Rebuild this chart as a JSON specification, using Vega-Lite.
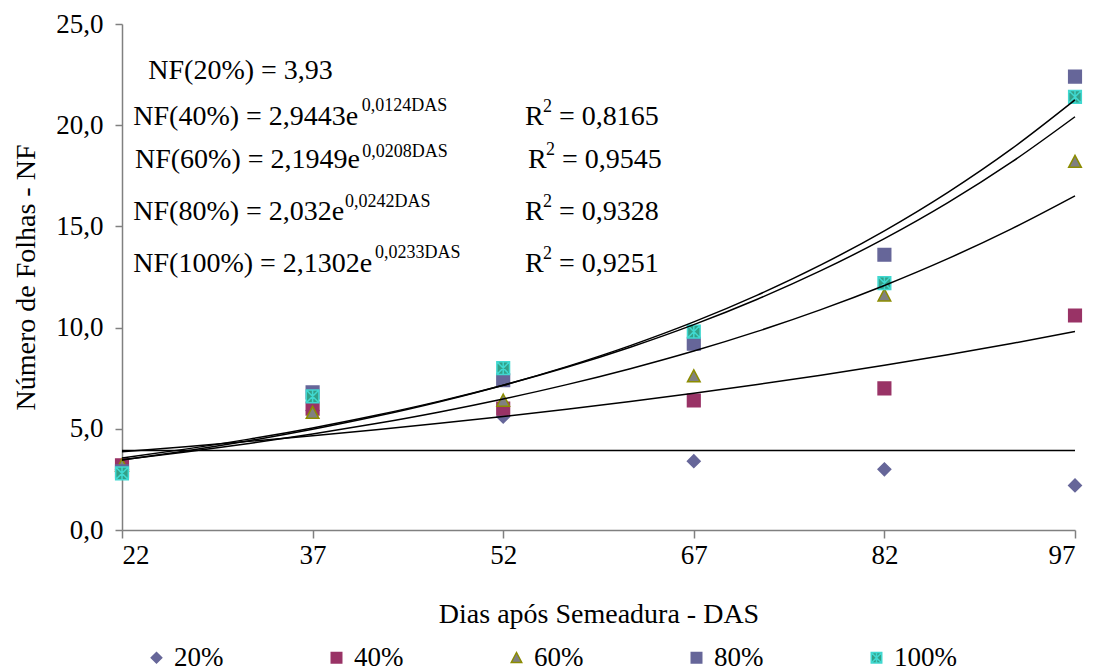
{
  "$schema": "https://vega.github.io/schema/vega-lite/v6.json",
  "width": 953,
  "height": 506,
  "autosize": {"type": "none"},
  "padding": {"left": 122, "top": 24, "right": 18, "bottom": 141},
  "background": "white",
  "config": {
    "view": {"stroke": null},
    "font": "Liberation Serif",
    "legend": {
      "direction": "horizontal",
      "columns": 5,
      "gridAlign": "all",
      "columnPadding": 86,
      "labelFont": "Liberation Serif",
      "labelFontSize": 27,
      "labelColor": "black",
      "labelOffset": 4,
      "symbolSize": 110,
      "symbolStrokeWidth": 1.5
    }
  },
  "datasets": {
    "pontos": [
      {"das": 22, "nf": 3.0, "serie": "20%"},
      {"das": 37, "nf": 5.9, "serie": "20%"},
      {"das": 52, "nf": 5.6, "serie": "20%"},
      {"das": 67, "nf": 3.4, "serie": "20%"},
      {"das": 82, "nf": 3.0, "serie": "20%"},
      {"das": 97, "nf": 2.2, "serie": "20%"},
      {"das": 22, "nf": 3.2, "serie": "40%"},
      {"das": 37, "nf": 6.0, "serie": "40%"},
      {"das": 52, "nf": 6.0, "serie": "40%"},
      {"das": 67, "nf": 6.4, "serie": "40%"},
      {"das": 82, "nf": 7.0, "serie": "40%"},
      {"das": 97, "nf": 10.6, "serie": "40%"},
      {"das": 22, "nf": 3.2, "serie": "60%"},
      {"das": 37, "nf": 5.8, "serie": "60%"},
      {"das": 52, "nf": 6.4, "serie": "60%"},
      {"das": 67, "nf": 7.6, "serie": "60%"},
      {"das": 82, "nf": 11.6, "serie": "60%"},
      {"das": 97, "nf": 18.2, "serie": "60%"},
      {"das": 22, "nf": 2.9, "serie": "80%"},
      {"das": 37, "nf": 6.8, "serie": "80%"},
      {"das": 52, "nf": 7.4, "serie": "80%"},
      {"das": 67, "nf": 9.2, "serie": "80%"},
      {"das": 82, "nf": 13.6, "serie": "80%"},
      {"das": 97, "nf": 22.4, "serie": "80%"},
      {"das": 22, "nf": 2.8, "serie": "100%"},
      {"das": 37, "nf": 6.6, "serie": "100%"},
      {"das": 52, "nf": 8.0, "serie": "100%"},
      {"das": 67, "nf": 9.8, "serie": "100%"},
      {"das": 82, "nf": 12.2, "serie": "100%"},
      {"das": 97, "nf": 21.4, "serie": "100%"}
    ],
    "curvas": [
      {"das": 22, "nf": 3.93, "serie": "20%"},
      {"das": 97, "nf": 3.93, "serie": "20%"},
      {"das": 22, "nf": 3.868, "serie": "40%"},
      {"das": 27, "nf": 4.115, "serie": "40%"},
      {"das": 32, "nf": 4.379, "serie": "40%"},
      {"das": 37, "nf": 4.659, "serie": "40%"},
      {"das": 42, "nf": 4.957, "serie": "40%"},
      {"das": 47, "nf": 5.274, "serie": "40%"},
      {"das": 52, "nf": 5.611, "serie": "40%"},
      {"das": 57, "nf": 5.970, "serie": "40%"},
      {"das": 62, "nf": 6.352, "serie": "40%"},
      {"das": 67, "nf": 6.758, "serie": "40%"},
      {"das": 72, "nf": 7.190, "serie": "40%"},
      {"das": 77, "nf": 7.650, "serie": "40%"},
      {"das": 82, "nf": 8.139, "serie": "40%"},
      {"das": 87, "nf": 8.660, "serie": "40%"},
      {"das": 92, "nf": 9.214, "serie": "40%"},
      {"das": 97, "nf": 9.803, "serie": "40%"},
      {"das": 22, "nf": 3.469, "serie": "60%"},
      {"das": 27, "nf": 3.849, "serie": "60%"},
      {"das": 32, "nf": 4.271, "serie": "60%"},
      {"das": 37, "nf": 4.739, "serie": "60%"},
      {"das": 42, "nf": 5.258, "serie": "60%"},
      {"das": 47, "nf": 5.834, "serie": "60%"},
      {"das": 52, "nf": 6.474, "serie": "60%"},
      {"das": 57, "nf": 7.183, "serie": "60%"},
      {"das": 62, "nf": 7.971, "serie": "60%"},
      {"das": 67, "nf": 8.844, "serie": "60%"},
      {"das": 72, "nf": 9.814, "serie": "60%"},
      {"das": 77, "nf": 10.889, "serie": "60%"},
      {"das": 82, "nf": 12.083, "serie": "60%"},
      {"das": 87, "nf": 13.407, "serie": "60%"},
      {"das": 92, "nf": 14.877, "serie": "60%"},
      {"das": 97, "nf": 16.507, "serie": "60%"},
      {"das": 22, "nf": 3.461, "serie": "80%"},
      {"das": 27, "nf": 3.906, "serie": "80%"},
      {"das": 32, "nf": 4.408, "serie": "80%"},
      {"das": 37, "nf": 4.975, "serie": "80%"},
      {"das": 42, "nf": 5.615, "serie": "80%"},
      {"das": 47, "nf": 6.337, "serie": "80%"},
      {"das": 52, "nf": 7.152, "serie": "80%"},
      {"das": 57, "nf": 8.072, "serie": "80%"},
      {"das": 62, "nf": 9.110, "serie": "80%"},
      {"das": 67, "nf": 10.282, "serie": "80%"},
      {"das": 72, "nf": 11.605, "serie": "80%"},
      {"das": 77, "nf": 13.097, "serie": "80%"},
      {"das": 82, "nf": 14.782, "serie": "80%"},
      {"das": 87, "nf": 16.683, "serie": "80%"},
      {"das": 92, "nf": 18.829, "serie": "80%"},
      {"das": 97, "nf": 21.251, "serie": "80%"},
      {"das": 22, "nf": 3.557, "serie": "100%"},
      {"das": 27, "nf": 3.996, "serie": "100%"},
      {"das": 32, "nf": 4.490, "serie": "100%"},
      {"das": 37, "nf": 5.045, "serie": "100%"},
      {"das": 42, "nf": 5.668, "serie": "100%"},
      {"das": 47, "nf": 6.368, "serie": "100%"},
      {"das": 52, "nf": 7.155, "serie": "100%"},
      {"das": 57, "nf": 8.039, "serie": "100%"},
      {"das": 62, "nf": 9.033, "serie": "100%"},
      {"das": 67, "nf": 10.149, "serie": "100%"},
      {"das": 72, "nf": 11.403, "serie": "100%"},
      {"das": 77, "nf": 12.812, "serie": "100%"},
      {"das": 82, "nf": 14.395, "serie": "100%"},
      {"das": 87, "nf": 16.173, "serie": "100%"},
      {"das": 92, "nf": 18.172, "serie": "100%"},
      {"das": 97, "nf": 20.417, "serie": "100%"}
    ],
    "equacoes": [
      {"das": 24.07, "nf": 22.27, "texto": "NF(20%) = 3,93"},
      {"das": 22.89, "nf": 20.01, "texto": "NF(40%) = 2,9443e"},
      {"das": 23.02, "nf": 17.87, "texto": "NF(60%) = 2,1949e"},
      {"das": 22.89, "nf": 15.32, "texto": "NF(80%) = 2,032e"},
      {"das": 22.89, "nf": 12.76, "texto": "NF(100%) = 2,1302e"},
      {"das": 53.72, "nf": 20.01, "texto": "R"},
      {"das": 53.95, "nf": 17.87, "texto": "R"},
      {"das": 53.72, "nf": 15.32, "texto": "R"},
      {"das": 53.72, "nf": 12.76, "texto": "R"},
      {"das": 56.39, "nf": 20.01, "texto": "= 0,8165"},
      {"das": 56.63, "nf": 17.87, "texto": "= 0,9545"},
      {"das": 56.39, "nf": 15.32, "texto": "= 0,9328"},
      {"das": 56.39, "nf": 12.76, "texto": "= 0,9251"}
    ],
    "expoentes": [
      {"das": 40.86, "nf": 20.70, "texto": "0,0124DAS"},
      {"das": 40.91, "nf": 18.44, "texto": "0,0208DAS"},
      {"das": 39.55, "nf": 15.97, "texto": "0,0242DAS"},
      {"das": 41.91, "nf": 13.42, "texto": "0,0233DAS"},
      {"das": 55.13, "nf": 20.65, "texto": "2"},
      {"das": 55.37, "nf": 18.53, "texto": "2"},
      {"das": 55.13, "nf": 15.96, "texto": "2"},
      {"das": 55.13, "nf": 13.39, "texto": "2"}
    ]
  },
  "layer": [
    {
      "data": {"name": "pontos"},
      "mark": {"type": "point", "filled": true, "size": 160, "strokeWidth": 1.5, "opacity": 1},
      "encoding": {
        "x": {
          "field": "das",
          "type": "quantitative",
          "scale": {"domain": [22, 97], "nice": false, "zero": false},
          "axis": {
            "values": [22, 37, 52, 67, 82, 97],
            "format": "d",
            "grid": false,
            "domainColor": "#808080",
            "domainWidth": 1.5,
            "tickColor": "#808080",
            "tickWidth": 1.5,
            "tickSize": 8,
            "labelFont": "Liberation Serif",
            "labelFontSize": 27,
            "labelColor": "black",
            "labelPadding": 4,
            "title": "Dias após Semeadura - DAS",
            "titleFont": "Liberation Serif",
            "titleFontSize": 28,
            "titleFontWeight": "normal",
            "titleColor": "black",
            "titlePadding": 32
          }
        },
        "y": {
          "field": "nf",
          "type": "quantitative",
          "scale": {"domain": [0, 25], "nice": false},
          "axis": {
            "values": [0, 5, 10, 15, 20, 25],
            "labelExpr": "replace(format(datum.value, '.1f'), '.', ',')",
            "grid": false,
            "domainColor": "#808080",
            "domainWidth": 1.5,
            "tickColor": "#808080",
            "tickWidth": 1.5,
            "tickSize": 7,
            "labelFont": "Liberation Serif",
            "labelFontSize": 27,
            "labelColor": "black",
            "labelPadding": 12,
            "title": "Número de Folhas - NF",
            "titleFont": "Liberation Serif",
            "titleFontSize": 28,
            "titleFontWeight": "normal",
            "titleColor": "black",
            "titlePadding": 15
          }
        },
        "fill": {
          "field": "serie",
          "type": "nominal",
          "scale": {
            "domain": ["20%", "40%", "60%", "80%", "100%"],
            "range": ["#666699", "#993366", "#808080", "#666699", "#33A088"]
          },
          "legend": {"title": null, "orient": "none", "legendX": 21, "legendY": 620}
        },
        "stroke": {
          "field": "serie",
          "type": "nominal",
          "scale": {
            "domain": ["20%", "40%", "60%", "80%", "100%"],
            "range": ["#666699", "#993366", "#8C8C00", "#666699", "#40D8D0"]
          },
          "legend": {"title": null, "orient": "none", "legendX": 21, "legendY": 620}
        },
        "shape": {
          "field": "serie",
          "type": "nominal",
          "scale": {
            "domain": ["20%", "40%", "60%", "80%", "100%"],
            "range": [
              "M0,-1L1,0L0,1L-1,0Z",
              "M-1,-1H1V1H-1Z",
              "M0,-1L1,0.9H-1Z",
              "M-1,-1H1V1H-1Z",
              "M-1,-1H1V1H-1Z M-1,-1L1,1 M1,-1L-1,1 M0,-1V1"
            ]
          },
          "legend": {"title": null, "orient": "none", "legendX": 21, "legendY": 620}
        }
      }
    },
    {
      "data": {"name": "curvas"},
      "mark": {"type": "line", "color": "black", "strokeWidth": 1.5, "interpolate": "monotone"},
      "encoding": {
        "x": {"field": "das", "type": "quantitative"},
        "y": {"field": "nf", "type": "quantitative"},
        "detail": {"field": "serie", "type": "nominal"}
      }
    },
    {
      "data": {"name": "equacoes"},
      "mark": {"type": "text", "align": "left", "baseline": "alphabetic", "font": "Liberation Serif", "fontSize": 28, "color": "black"},
      "encoding": {
        "x": {"field": "das", "type": "quantitative"},
        "y": {"field": "nf", "type": "quantitative"},
        "text": {"field": "texto", "type": "nominal"}
      }
    },
    {
      "data": {"name": "expoentes"},
      "mark": {"type": "text", "align": "left", "baseline": "alphabetic", "font": "Liberation Serif", "fontSize": 18, "color": "black"},
      "encoding": {
        "x": {"field": "das", "type": "quantitative"},
        "y": {"field": "nf", "type": "quantitative"},
        "text": {"field": "texto", "type": "nominal"}
      }
    }
  ]
}
